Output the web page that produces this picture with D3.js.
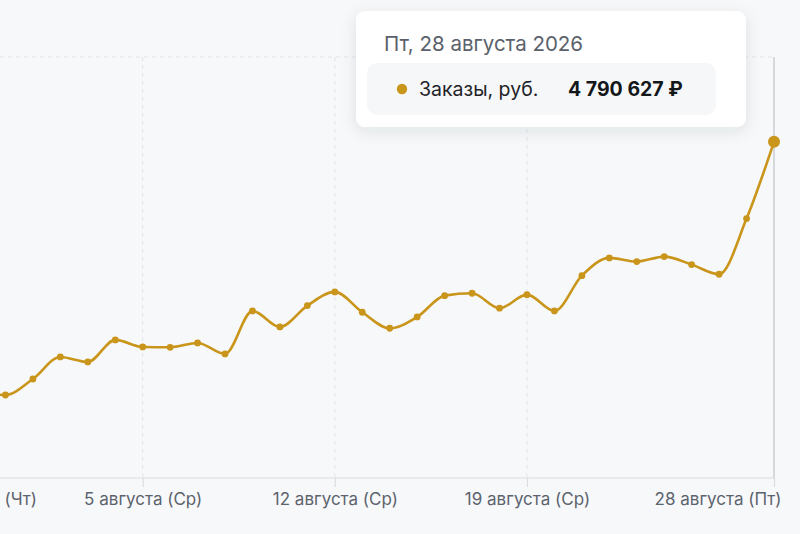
<!DOCTYPE html>
<html>
<head>
<meta charset="utf-8">
<script src="https://cdn.jsdelivr.net/npm/d3@7"></script>
<style>
  html, body { margin: 0; padding: 0; background: #f7f8fa; }
  body { width: 800px; height: 534px; overflow: hidden; font-family: Inter, "Noto Sans", sans-serif; }
  svg { display: block; }
</style>
</head>
<body>
<svg id="chart" width="800" height="534"></svg>
<script>
// ---- data ----
const dates = [
  "2026-07-30","2026-07-31","2026-08-01","2026-08-02","2026-08-03","2026-08-04",
  "2026-08-05","2026-08-06","2026-08-07","2026-08-08","2026-08-09","2026-08-10",
  "2026-08-11","2026-08-12","2026-08-13","2026-08-14","2026-08-15","2026-08-16",
  "2026-08-17","2026-08-18","2026-08-19","2026-08-20","2026-08-21","2026-08-22",
  "2026-08-23","2026-08-24","2026-08-25","2026-08-26","2026-08-27","2026-08-28"
];
const orders = [
  1240000, 1183000, 1411000, 1725000, 1654000, 1968000,
  1868000, 1863000, 1925000, 1768000, 2381000, 2153000,
  2457000, 2652000, 2362000, 2134000, 2295000, 2599000,
  2633000, 2420000, 2613000, 2381000, 2884000, 3137000,
  3084000, 3155000, 3041000, 2904000, 3697000, 4790627
];
const tickDates = ["2026-07-30","2026-08-05","2026-08-12","2026-08-19","2026-08-28"];
const tickLabels = ["30 июля (Чт)","5 августа (Ср)","12 августа (Ср)","19 августа (Ср)","28 августа (Пт)"];
const yTicks = [6000000];
const seriesName = "Заказы, руб.";
const tooltipTitle = "Пт, 28 августа 2026";
const tooltipValue = "4 790 627 ₽";

// ---- layout ----
const plot = { left: -22, right: 774, top: 57, bottom: 478 };
const lineColor = "#c9951a";

const parse = d3.timeParse("%Y-%m-%d");
const data = dates.map((d, i) => ({ date: parse(d), value: orders[i] }));
const ticks = tickDates.map(parse);

const x = d3.scaleTime()
  .domain([parse("2026-07-30"), parse("2026-08-28")])
  .range([plot.left, plot.right]);
const y = d3.scaleLinear()
  .domain([0, 6000000])
  .range([plot.bottom, plot.top]);

const svg = d3.select("#chart");

// drop shadow filter
const defs = svg.append("defs");
const f = defs.append("filter").attr("id", "shadow")
  .attr("x", "-20%").attr("y", "-40%").attr("width", "140%").attr("height", "180%");
f.append("feDropShadow").attr("dx", 0).attr("dy", 4).attr("stdDeviation", 8)
  .attr("flood-color", "#1b2633").attr("flood-opacity", 0.10);

// horizontal gridlines
svg.append("g")
  .selectAll("line").data(yTicks).join("line")
  .attr("x1", 0).attr("x2", plot.right)
  .attr("y1", d => y(d)).attr("y2", d => y(d))
  .attr("stroke", "#e1e4e8").attr("stroke-width", 1)
  .attr("stroke-dasharray", "4,4");

// vertical gridlines (dashed) for all ticks except last
svg.append("g")
  .selectAll("line").data(ticks.slice(0, -1)).join("line")
  .attr("x1", d => x(d)).attr("x2", d => x(d))
  .attr("y1", plot.top).attr("y2", plot.bottom)
  .attr("stroke", "#e1e4e8").attr("stroke-width", 1)
  .attr("stroke-dasharray", "4,4");

// x axis
const xAxis = d3.axisBottom(x)
  .tickValues(ticks)
  .tickFormat((d, i) => tickLabels[i])
  .tickSize(9)
  .tickPadding(6);
const gx = svg.append("g")
  .attr("transform", `translate(0,${plot.bottom})`)
  .call(xAxis);
gx.select(".domain").attr("stroke", "#dadde1").attr("stroke-width", 1.2)
  .attr("d", `M0,0H${plot.right}`);
gx.selectAll(".tick line").attr("stroke", "#dadde1").attr("stroke-width", 1.2);
gx.selectAll(".tick text")
  .attr("fill", "#5c636d")
  .style("font-family", "Inter, 'Noto Sans', sans-serif")
  .style("font-size", "17px");
// keep last label inside the frame (right-aligned like the reference)
gx.selectAll(".tick text").filter((d, i) => i === ticks.length - 1)
  .attr("text-anchor", "end").attr("dx", 7);
gx.selectAll(".tick text").filter((d, i) => i === 0)
  .attr("dx", 5);

// crosshair at hovered point
const hover = data[data.length - 1];
svg.append("line")
  .attr("x1", x(hover.date)).attr("x2", x(hover.date))
  .attr("y1", plot.top).attr("y2", plot.bottom)
  .attr("stroke", "#c4c8cd").attr("stroke-width", 1.3);

// line
const line = d3.line()
  .x(d => x(d.date)).y(d => y(d.value))
  .curve(d3.curveMonotoneX);
svg.append("path").datum(data)
  .attr("d", line)
  .attr("fill", "none")
  .attr("stroke", lineColor)
  .attr("stroke-width", 2.6)
  .attr("stroke-linejoin", "round");

svg.append("g")
  .selectAll("circle").data(data.slice(0, -1)).join("circle")
  .attr("cx", d => x(d.date)).attr("cy", d => y(d.value))
  .attr("r", 3.4)
  .attr("fill", lineColor);

svg.append("circle")
  .attr("cx", x(hover.date)).attr("cy", y(hover.value))
  .attr("r", 6)
  .attr("fill", lineColor);

// tooltip
const tt = svg.append("g").attr("transform", "translate(356,11)");
tt.append("rect")
  .attr("width", 390).attr("height", 116).attr("rx", 9)
  .attr("fill", "#ffffff").attr("filter", "url(#shadow)");
tt.append("text")
  .attr("x", 28).attr("y", 40)
  .attr("fill", "#5a616b")
  .style("font-size", "20.5px")
  .text(tooltipTitle);
tt.append("rect")
  .attr("x", 11).attr("y", 52).attr("width", 349).attr("height", 52).attr("rx", 10)
  .attr("fill", "#f6f7f9");
tt.append("circle")
  .attr("cx", 46).attr("cy", 78).attr("r", 5.2)
  .attr("fill", lineColor);
tt.append("text")
  .attr("x", 63).attr("y", 85)
  .attr("fill", "#1f2328")
  .style("font-size", "19.5px")
  .text(seriesName);
tt.append("text")
  .attr("x", 212).attr("y", 85)
  .attr("fill", "#14171a")
  .style("font-size", "19.5px")
  .style("font-weight", "700")
  .text(tooltipValue);
</script>
</body>
</html>
